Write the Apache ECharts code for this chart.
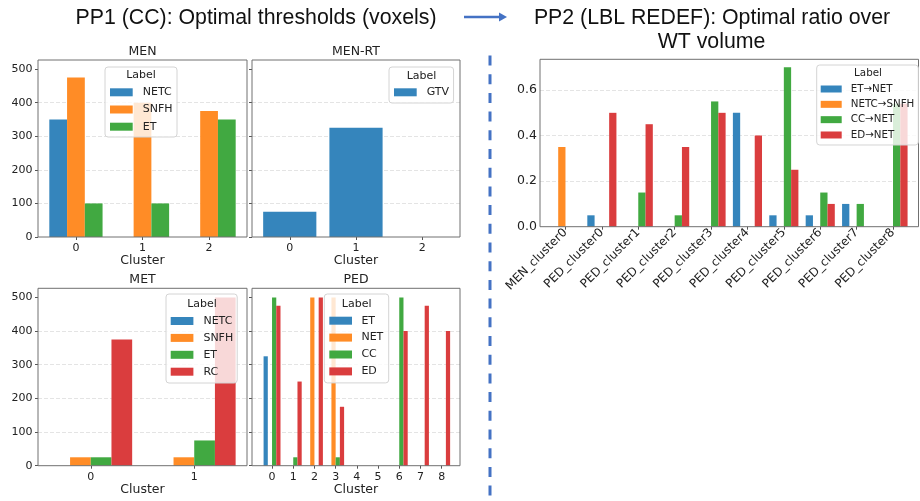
<!DOCTYPE html>
<html><head><meta charset="utf-8">
<script src="https://cdn.jsdelivr.net/npm/echarts@6/dist/echarts.min.js"></script>
<style>html,body{margin:0;padding:0;background:#fff}#c{width:920px;height:501px}</style>
</head><body><div id="c"></div>
<script>
// ---------- data ----------
const menClusters = [0, 1, 2];
const menNETC = [350, null, null];
const menSNFH = [475, 400, 375];
const menET = [100, 100, 350];

const menrtClusters = [0, 1, 2];
const menrtGTV = [75, 325, null];

const metClusters = [0, 1];
const metNETC = [null, null];
const metSNFH = [25, 25];
const metET = [25, 75];
const metRC = [375, 500];

const pedClusters = [0, 1, 2, 3, 4, 5, 6, 7, 8];
const pedET = [325, null, null, null, null, null, null, null, null];
const pedNET = [null, null, 500, 500, null, null, null, null, null];
const pedCC = [500, 25, null, 25, null, null, 500, null, null];
const pedED = [475, 250, 500, 175, null, null, 400, 475, 400];

const ratioCategories = ['MEN_cluster0', 'PED_cluster0', 'PED_cluster1', 'PED_cluster2', 'PED_cluster3',
  'PED_cluster4', 'PED_cluster5', 'PED_cluster6', 'PED_cluster7', 'PED_cluster8'];
const ratioETNET = [null, 0.05, null, null, null, 0.5, 0.05, 0.05, 0.1, null];
const ratioNETCSNFH = [0.35, null, null, null, null, null, null, null, null, null];
const ratioCCNET = [null, null, 0.15, 0.05, 0.55, null, 0.7, 0.15, 0.1, 0.54];
const ratioEDNET = [null, 0.5, 0.45, 0.35, 0.5, 0.4, 0.25, 0.1, null, 0.54];

const thresholdTicks = [0, 100, 200, 300, 400, 500];
const ratioTicks = [0, 0.2, 0.4, 0.6];

// ---------- style ----------
const COL = { blue: '#3585bc', orange: '#ff8c26', green: '#41a941', red: '#da3d3e' };
const PF = 'DejaVu Sans';
const TXT = '#222';
const ratioIdx = ratioCategories.map((c, i) => i);

function bars(name, xs, ys, color, idx, w) {
  return {
    type: 'bar', name: name, xAxisIndex: idx, yAxisIndex: idx,
    data: xs.map((x, i) => [x, ys[i]]).filter(p => p[1] != null),
    barWidth: w, barGap: '0%', itemStyle: { color: color },
    emphasis: { disabled: true }, animation: false
  };
}
function xAx(gi, min, max, ticks, nameGap, extra) {
  return Object.assign({
    gridIndex: gi, type: 'value', min: min, max: max,
    splitLine: { show: false }, axisLine: { show: false, onZero: false },
    axisTick: { show: true, customValues: ticks, length: 3, lineStyle: { color: '#555' } },
    axisLabel: { customValues: ticks, fontSize: 11, color: TXT, fontFamily: PF, margin: 5.5 },
    name: 'Cluster', nameLocation: 'middle', nameGap: nameGap,
    nameTextStyle: { fontSize: 12.5, color: TXT, fontFamily: PF }
  }, extra || {});
}
function yAx(gi, showLabel) {
  return {
    gridIndex: gi, type: 'value', min: 0, max: 527, interval: 100,
    axisLine: { show: false, onZero: false },
    axisTick: { show: true, length: 3, customValues: thresholdTicks, lineStyle: { color: '#555' } },
    axisLabel: { show: showLabel, customValues: thresholdTicks, fontSize: 11, color: TXT, fontFamily: PF, margin: 5.5 },
    splitLine: { show: true, showMaxLine: false, showMinLine: false, lineStyle: { color: '#e4e4e4', type: 'dashed', width: 1 } }
  };
}
const gridBase = { show: true, borderColor: '#707070', borderWidth: 1, backgroundColor: 'transparent', z: 3 };
function legend(names, left, top, pad, gap, opts) {
  return Object.assign({
    data: names, left: left, top: top, orient: 'vertical', align: 'left',
    padding: pad, itemGap: gap, itemWidth: 22.7, itemHeight: 8, icon: 'rect',
    formatter: n => n.split('|')[1], selectedMode: false,
    textStyle: { fontSize: 11, lineHeight: 13, color: TXT, fontFamily: PF, padding: [0, 0, 0, 5] },
    backgroundColor: 'rgba(255,255,255,0.8)', borderColor: '#d4d4d4', borderWidth: 1, borderRadius: 3, z: 10
  }, opts || {});
}
function txt(x, y, s, size, font, color) {
  return { type: 'text', x: x, y: y, z: 100, silent: true,
    style: { text: s, fontSize: size, fontFamily: font, fill: color, align: 'center', verticalAlign: 'middle' } };
}

const chart = echarts.init(document.getElementById('c'), null, { renderer: 'canvas' });
const option = {
  backgroundColor: '#fff',
  animation: false,
  grid: [
    Object.assign({ left: 38, top: 60, width: 209, height: 177 }, gridBase),
    Object.assign({ left: 252, top: 60, width: 208, height: 177 }, gridBase),
    Object.assign({ left: 38, top: 288.3, width: 209, height: 177.4 }, gridBase),
    Object.assign({ left: 252, top: 288.3, width: 208, height: 177.4 }, gridBase),
    Object.assign({ left: 540, top: 59.3, width: 378.5, height: 167.4 }, gridBase)
  ],
  xAxis: [
    xAx(0, -0.57, 2.57, menClusters, 16),
    xAx(1, -0.57, 2.57, menrtClusters, 16),
    xAx(2, -0.51, 1.51, metClusters, 15),
    xAx(3, -0.945, 8.865, pedClusters, 15),
    xAx(4, -0.7, 9.7, ratioIdx, 0, {
      name: '',
      axisLabel: { customValues: ratioIdx, formatter: v => ratioCategories[Math.round(v)],
        rotate: 45, fontSize: 12, color: TXT, fontFamily: PF, margin: 4 }
    })
  ],
  yAxis: [
    yAx(0, true), yAx(1, false), yAx(2, true), yAx(3, false),
    {
      gridIndex: 4, type: 'value', min: 0, max: 0.735, interval: 0.2,
      axisLine: { show: false, onZero: false }, axisTick: { show: false },
      axisLabel: { customValues: ratioTicks, formatter: v => v.toFixed(1), fontSize: 12.5, color: TXT, fontFamily: PF, margin: 3 },
      splitLine: { show: true, showMaxLine: false, showMinLine: false, lineStyle: { color: '#e4e4e4', type: 'dashed', width: 1 } }
    }
  ],
  legend: [
    legend(['MEN|NETC', 'MEN|SNFH', 'MEN|ET'], 105, 67, [18.8, 4.5, 3.8, 5], 4.2),
    legend(['MENRT|GTV'], 389, 67, [18.8, 4.5, 4.2, 5], 4.2),
    legend(['MET|NETC', 'MET|SNFH', 'MET|ET', 'MET|RC'], 166, 294, [20.5, 4, 4.8, 4.7], 3.9),
    legend(['PED|ET', 'PED|NET', 'PED|CC', 'PED|ED'], 324.3, 294, [20.2, 5.4, 5, 5], 3.9,
      { textStyle: { fontSize: 11, lineHeight: 13, color: TXT, fontFamily: PF, padding: [0, 0, 0, 4.4] } }),
    legend(['R|ET→NET', 'R|NETC→SNFH', 'R|CC→NET', 'R|ED→NET'], 816.7, 65, [18, 4, 4, 4], 3.33,
      { itemWidth: 21, itemHeight: 7, textStyle: { fontSize: 10.3, lineHeight: 12, color: TXT, fontFamily: PF, padding: [0, 0, 0, 4] } })
  ],
  series: [
    bars('MEN|NETC', menClusters, menNETC, COL.blue, 0, 17.75),
    bars('MEN|SNFH', menClusters, menSNFH, COL.orange, 0, 17.75),
    bars('MEN|ET', menClusters, menET, COL.green, 0, 17.75),
    bars('MENRT|GTV', menrtClusters, menrtGTV, COL.blue, 1, 53.2),
    bars('MET|NETC', metClusters, metNETC, COL.blue, 2, 20.7),
    bars('MET|SNFH', metClusters, metSNFH, COL.orange, 2, 20.7),
    bars('MET|ET', metClusters, metET, COL.green, 2, 20.7),
    bars('MET|RC', metClusters, metRC, COL.red, 2, 20.7),
    bars('PED|ET', pedClusters, pedET, COL.blue, 3, 4.23),
    bars('PED|NET', pedClusters, pedNET, COL.orange, 3, 4.23),
    bars('PED|CC', pedClusters, pedCC, COL.green, 3, 4.23),
    bars('PED|ED', pedClusters, pedED, COL.red, 3, 4.23),
    bars('R|ET→NET', ratioIdx, ratioETNET, COL.blue, 4, 7.28),
    bars('R|NETC→SNFH', ratioIdx, ratioNETCSNFH, COL.orange, 4, 7.28),
    bars('R|CC→NET', ratioIdx, ratioCCNET, COL.green, 4, 7.28),
    bars('R|ED→NET', ratioIdx, ratioEDNET, COL.red, 4, 7.28)
  ],
  graphic: [
    txt(256, 18, 'PP1 (CC): Optimal thresholds (voxels)', 21.3, 'Liberation Sans', '#111'),
    txt(712, 18, 'PP2 (LBL REDEF): Optimal ratio over', 21.3, 'Liberation Sans', '#111'),
    txt(711.5, 42, 'WT volume', 21.3, 'Liberation Sans', '#111'),
    { type: 'line', z: 100, silent: true, shape: { x1: 464, y1: 17, x2: 500, y2: 17 },
      style: { stroke: '#4472C4', lineWidth: 2.5 } },
    { type: 'polygon', z: 100, silent: true, shape: { points: [[499, 12.5], [507, 17], [499, 21.5]] },
      style: { fill: '#4472C4' } },
    { type: 'line', z: 100, silent: true, shape: { x1: 490, y1: 55.5, x2: 490, y2: 501 },
      style: { stroke: '#4472C4', lineWidth: 3, lineDash: [10, 8.7] } },
    txt(142.5, 52, 'MEN', 12.5, PF, TXT),
    txt(356, 52, 'MEN-RT', 12.5, PF, TXT),
    txt(142.5, 280, 'MET', 12.5, PF, TXT),
    txt(356, 280, 'PED', 12.5, PF, TXT),
    txt(141, 75, 'Label', 11, PF, TXT),
    txt(421.5, 75.7, 'Label', 11, PF, TXT),
    txt(202, 304.3, 'Label', 11, PF, TXT),
    txt(356.7, 304, 'Label', 11, PF, TXT),
    txt(868, 73.3, 'Label', 10.3, PF, TXT)
  ]
};
chart.setOption(option);
</script>
</body></html>
